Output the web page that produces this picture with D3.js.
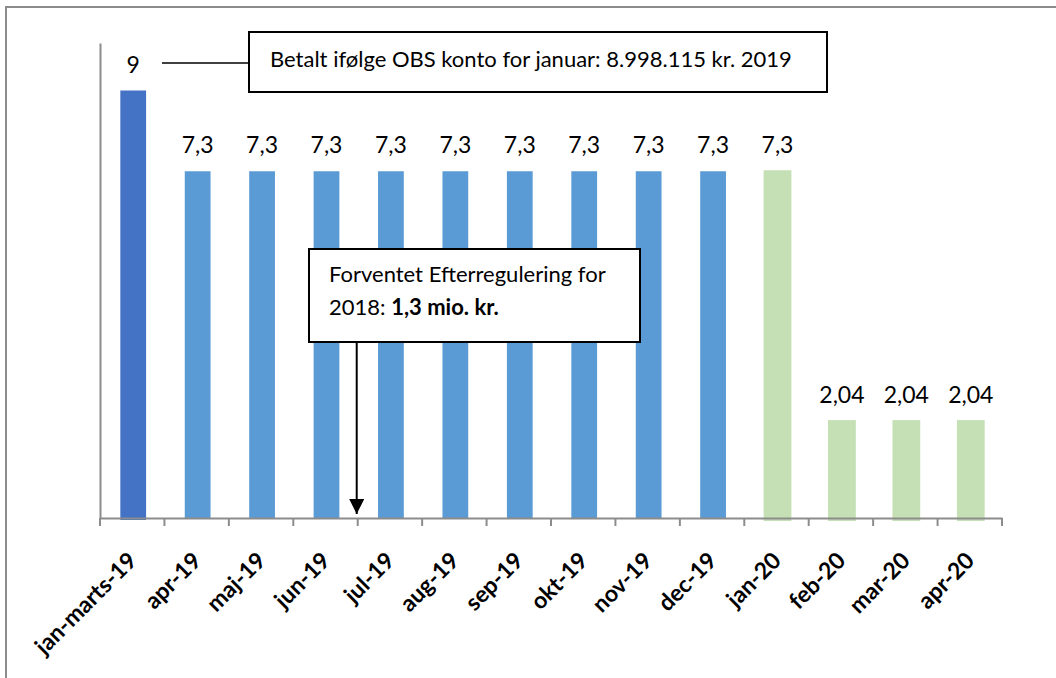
<!DOCTYPE html>
<html>
<head>
<meta charset="utf-8">
<script src="https://cdn.jsdelivr.net/npm/d3@7"></script>
<style>
  html, body { margin: 0; padding: 0; background: #fff; }
  svg { display: block; }
  text { font-family: Lato, "Noto Sans", sans-serif; fill: #000; }
</style>
</head>
<body>
<svg id="chart" width="1056" height="678"></svg>
<script>
// ---- data ----
const categories = ["jan-marts-19","apr-19","maj-19","jun-19","jul-19","aug-19","sep-19","okt-19","nov-19","dec-19","jan-20","feb-20","mar-20","apr-20"];
const values = [9, 7.3, 7.3, 7.3, 7.3, 7.3, 7.3, 7.3, 7.3, 7.3, 7.3, 2.04, 2.04, 2.04];
const valueLabels = ["9","7,3","7,3","7,3","7,3","7,3","7,3","7,3","7,3","7,3","7,3","2,04","2,04","2,04"];
const groups = ["q1","m19","m19","m19","m19","m19","m19","m19","m19","m19","m20","m20","m20","m20"];
const yDomain = [0, 10];
const note1 = "Betalt ifølge OBS konto for januar: 8.998.115 kr. 2019";
const note2Line1 = "Forventet Efterregulering for";
const note2Line2a = "2018: ";
const note2Line2b = "1,3 mio. kr.";

const colors = { q1: "#4472C4", m19: "#5B9BD5", m20: "#C5E0B4" };

const svg = d3.select("#chart");

// outer frame
svg.append("rect").attr("x", 6).attr("y", 7).attr("width", 1070).attr("height", 690)
  .attr("fill", "none").attr("stroke", "#8c8c8c").attr("stroke-width", 2);

const plot = { left: 100, right: 1002, top: 43, bottom: 518 };

const x = d3.scaleBand().domain(categories).range([plot.left, plot.right])
  .paddingInner(0.6).paddingOuter(0.3);
const y = d3.scaleLinear().domain(yDomain).range([plot.bottom, plot.top]);

// bars
svg.append("g").selectAll("rect").data(categories).join("rect")
  .attr("x", (d) => x(d) + 1)
  .attr("y", (d, i) => y(values[i]))
  .attr("width", x.bandwidth())
  .attr("height", (d, i) => y(0) - y(values[i]) + (groups[i] === "m19" ? 0 : 2))
  .attr("fill", (d, i) => colors[groups[i]])
  .attr("stroke", (d, i) => groups[i] === "m20" ? colors.m20 : "none")
  .attr("stroke-width", 2);

// value labels
svg.append("g").selectAll("text").data(categories).join("text")
  .attr("x", (d) => x(d) + 1 + x.bandwidth() / 2)
  .attr("y", (d, i) => y(values[i]) - 18)
  .attr("text-anchor", "middle")
  .style("font-size", "23px")
  .text((d, i) => valueLabels[i]);

// y axis (line only)
const yAxis = svg.append("g").attr("transform", `translate(${plot.left},0)`)
  .call(d3.axisLeft(y).tickValues([]).tickSizeOuter(0));
yAxis.select(".domain").attr("stroke", "#8c8c8c").attr("stroke-width", 2);

// x axis with labels
const xAxis = svg.append("g").attr("transform", `translate(0,${plot.bottom})`)
  .call(d3.axisBottom(x).tickSize(0).tickSizeOuter(0).tickPadding(0));
xAxis.select(".domain").attr("stroke", "#8c8c8c").attr("stroke-width", 2);
xAxis.selectAll(".tick text")
  .attr("text-anchor", "end")
  .attr("dy", 0)
  .attr("y", 0)
  .attr("transform", "translate(6,44) rotate(-45)")
  .style("font-family", "Lato, 'Noto Sans', sans-serif")
  .style("font-size", "23px")
  .style("font-weight", "bold")
  .attr("fill", "#000");

// boundary ticks
svg.append("g").selectAll("line").data(d3.range(categories.length + 1)).join("line")
  .attr("x1", (i) => x.range()[0] + i * (x.range()[1] - x.range()[0]) / categories.length)
  .attr("x2", (i) => x.range()[0] + i * (x.range()[1] - x.range()[0]) / categories.length)
  .attr("y1", plot.bottom).attr("y2", plot.bottom + 8)
  .attr("stroke", "#8c8c8c").attr("stroke-width", 2);

// annotation 1
const b1 = { x: 249, y: 32, w: 578, h: 60 };
svg.append("line").attr("x1", 162).attr("x2", b1.x).attr("y1", 63).attr("y2", 63)
  .attr("stroke", "#000").attr("stroke-width", 1.5);
svg.append("rect").attr("x", b1.x).attr("y", b1.y).attr("width", b1.w).attr("height", b1.h)
  .attr("fill", "#fff").attr("stroke", "#000").attr("stroke-width", 2);
svg.append("text").attr("x", 270).attr("y", 67).style("font-size", "22px").text(note1);

// annotation 2
const b2 = { x: 309, y: 249, w: 331, h: 93 };
svg.append("defs").append("marker").attr("id", "arrow")
  .attr("viewBox", "0 0 10 10").attr("refX", 10).attr("refY", 5)
  .attr("markerWidth", 8).attr("markerHeight", 7.5).attr("markerUnits", "strokeWidth")
  .attr("orient", "auto")
  .append("path").attr("d", "M0,0 L10,5 L0,10 Z").attr("fill", "#000");
const arrowX = x.range()[0] + 4 * (x.range()[1] - x.range()[0]) / categories.length - 1;
svg.append("line").attr("x1", arrowX).attr("x2", arrowX).attr("y1", b2.y + b2.h).attr("y2", 514)
  .attr("stroke", "#000").attr("stroke-width", 2).attr("marker-end", "url(#arrow)");
svg.append("rect").attr("x", b2.x).attr("y", b2.y).attr("width", b2.w).attr("height", b2.h)
  .attr("fill", "#fff").attr("stroke", "#000").attr("stroke-width", 2);
svg.append("text").attr("x", 329).attr("y", 282).style("font-size", "22px").text(note2Line1);
const t2 = svg.append("text").attr("x", 329).attr("y", 315).style("font-size", "22px");
t2.append("tspan").text(note2Line2a);
t2.append("tspan").style("font-weight", "bold").text(note2Line2b);
</script>
</body>
</html>
